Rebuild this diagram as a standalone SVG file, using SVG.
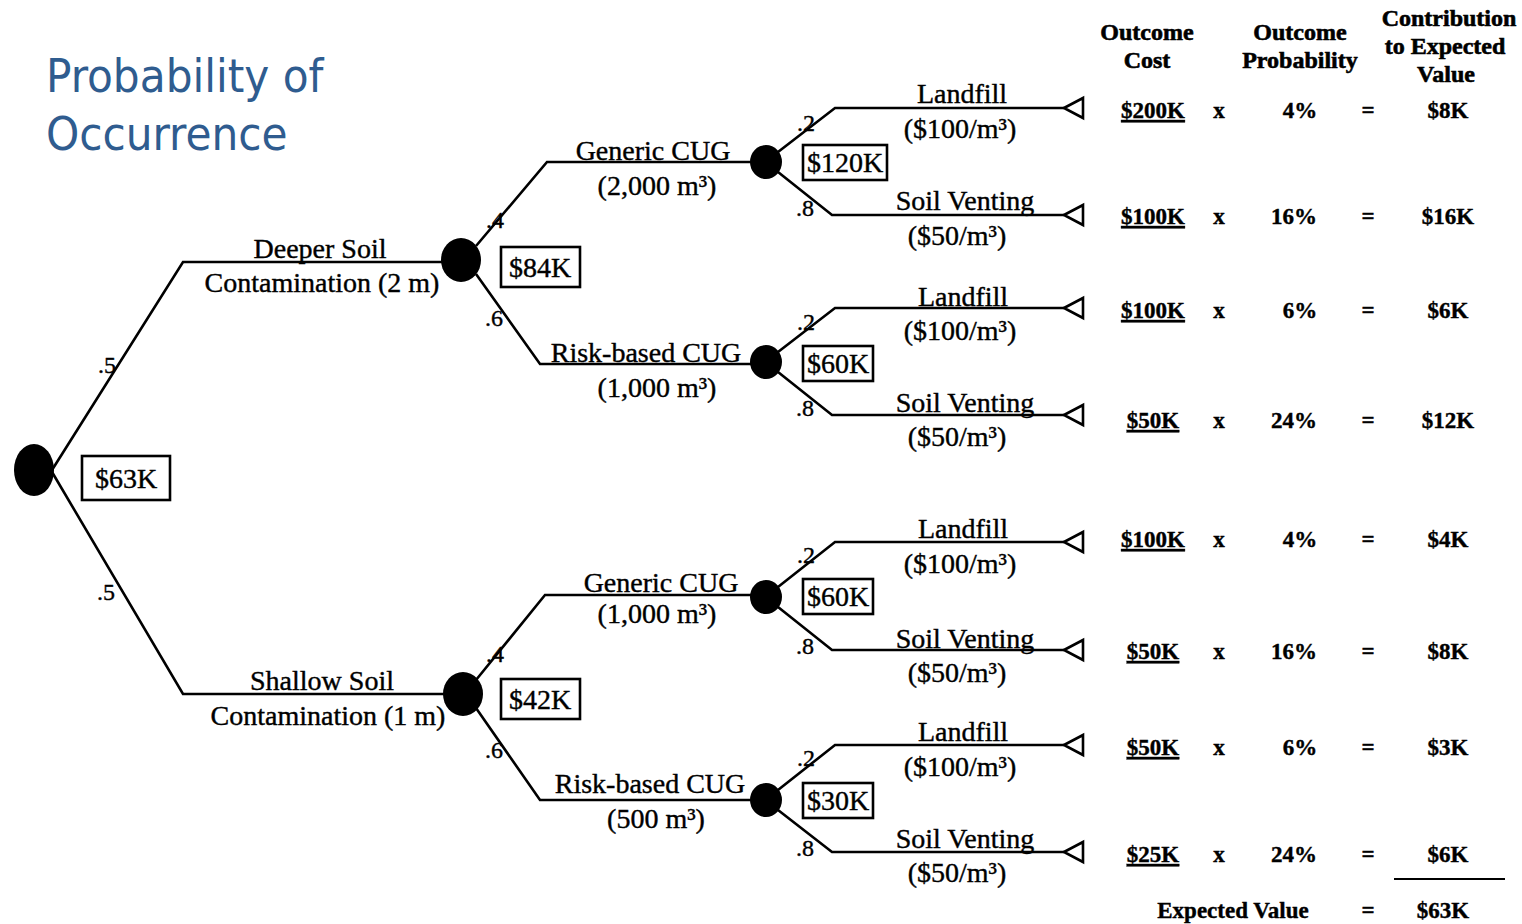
<svg xmlns="http://www.w3.org/2000/svg" width="1522" height="924" viewBox="0 0 1522 924">
<style>
.t{font-family:"Liberation Serif","Times New Roman",serif;font-size:28px;fill:#000;stroke:#000;stroke-width:0.4;text-anchor:middle}
.pr{font-family:"Liberation Serif","Times New Roman",serif;font-size:24px;fill:#000;stroke:#000;stroke-width:0.4;text-anchor:middle}
.h{font-family:"Liberation Serif","Times New Roman",serif;font-size:24px;font-weight:bold;fill:#000;stroke:#000;stroke-width:0.6;text-anchor:middle}
.v{font-family:"Liberation Serif","Times New Roman",serif;font-size:23px;font-weight:bold;fill:#000;stroke:#000;stroke-width:0.4;text-anchor:middle}
.u{text-decoration:underline}
.title{font-family:"DejaVu Sans Condensed","DejaVu Sans",sans-serif;font-stretch:condensed;font-size:47px;fill:#2F5C8F}
.e{fill:none;stroke:#000;stroke-width:2.6;stroke-linejoin:miter}
.leaf{fill:#fff;stroke:#000;stroke-width:2.6}
.box{fill:#fff;stroke:#000;stroke-width:2.6}
.dot{fill:#000}
</style>
<rect width="1522" height="924" fill="#fff"/>
<g id="title">
<text class="title" x="46" y="92">Probability of</text>
<text class="title" x="46" y="150">Occurrence</text>
</g>
<g id="connectors">
<polyline class="e" points="52,470 183,262 443,262"/>
<polyline class="e" points="52,472 183,694 445,694"/>
<polyline class="e" points="476,246 547,162 752,162"/>
<polyline class="e" points="476,274 540,364 752,364"/>
<polyline class="e" points="476,680 545,595 752,595"/>
<polyline class="e" points="476,708 540,800 752,800"/>
<polyline class="e" points="778,152 835,108 1064,108"/>
<polyline class="e" points="778,172 832,215 1064,215"/>
<polyline class="e" points="778,352 835,308 1064,308"/>
<polyline class="e" points="778,372 832,415 1064,415"/>
<polyline class="e" points="778,587 835,542 1064,542"/>
<polyline class="e" points="778,607 832,650 1064,650"/>
<polyline class="e" points="778,790 835,745 1064,745"/>
<polyline class="e" points="778,810 832,852 1064,852"/>
<text class="pr" x="107" y="373">.5</text>
<text class="pr" x="106" y="600">.5</text>
<text class="pr" x="495" y="228">.4</text>
<text class="pr" x="494" y="326">.6</text>
<text class="pr" x="495" y="662">.4</text>
<text class="pr" x="494" y="758">.6</text>
<text class="pr" x="806" y="131">.2</text>
<text class="pr" x="805" y="216">.8</text>
<text class="pr" x="806" y="330">.2</text>
<text class="pr" x="805" y="416">.8</text>
<text class="pr" x="806" y="563">.2</text>
<text class="pr" x="805" y="654">.8</text>
<text class="pr" x="806" y="766">.2</text>
<text class="pr" x="805" y="856">.8</text>
<text class="t" x="320" y="258">Deeper Soil</text>
<text class="t" x="322" y="292">Contamination (2 m)</text>
<text class="t" x="322" y="690">Shallow Soil</text>
<text class="t" x="328" y="725">Contamination (1 m)</text>
<text class="t" x="653" y="160">Generic CUG</text>
<text class="t" x="657" y="195">(2,000 m³)</text>
<text class="t" x="646" y="362">Risk-based CUG</text>
<text class="t" x="657" y="397">(1,000 m³)</text>
<text class="t" x="661" y="592">Generic CUG</text>
<text class="t" x="657" y="623">(1,000 m³)</text>
<text class="t" x="650" y="793">Risk-based CUG</text>
<text class="t" x="656" y="828">(500 m³)</text>
<text class="t" x="962" y="103">Landfill</text>
<text class="t" x="960" y="138">($100/m³)</text>
<text class="t" x="965" y="210">Soil Venting</text>
<text class="t" x="957" y="245">($50/m³)</text>
<text class="t" x="963" y="306">Landfill</text>
<text class="t" x="960" y="340">($100/m³)</text>
<text class="t" x="965" y="412">Soil Venting</text>
<text class="t" x="957" y="446">($50/m³)</text>
<text class="t" x="963" y="538">Landfill</text>
<text class="t" x="960" y="573">($100/m³)</text>
<text class="t" x="965" y="648">Soil Venting</text>
<text class="t" x="957" y="682">($50/m³)</text>
<text class="t" x="963" y="741">Landfill</text>
<text class="t" x="960" y="776">($100/m³)</text>
<text class="t" x="965" y="848">Soil Venting</text>
<text class="t" x="957" y="882">($50/m³)</text>
</g>
<g id="root">
<ellipse class="dot" cx="34" cy="470" rx="20" ry="26"/>
<rect class="box" x="82" y="456" width="88" height="44"/>
<text class="t" x="126" y="488">$63K</text>
</g>
<g id="deeper">
<ellipse class="dot" cx="461" cy="260" rx="20" ry="22"/>
<rect class="box" x="501" y="247" width="79" height="40"/>
<text class="t" x="540" y="277">$84K</text>
</g>
<g id="shallow">
<ellipse class="dot" cx="463" cy="694" rx="20" ry="22"/>
<rect class="box" x="501" y="679" width="79" height="40"/>
<text class="t" x="540" y="709">$42K</text>
</g>
<g id="deeper-generic">
<ellipse class="dot" cx="766" cy="162" rx="16" ry="17"/>
<rect class="box" x="803" y="145" width="84" height="35"/>
<text class="t" x="845" y="172">$120K</text>
</g>
<g id="deeper-risk">
<ellipse class="dot" cx="766" cy="362" rx="16" ry="17"/>
<rect class="box" x="803" y="346" width="70" height="35"/>
<text class="t" x="838" y="373">$60K</text>
</g>
<g id="shallow-generic">
<ellipse class="dot" cx="766" cy="597" rx="16" ry="17"/>
<rect class="box" x="803" y="579" width="70" height="35"/>
<text class="t" x="838" y="606">$60K</text>
</g>
<g id="shallow-risk">
<ellipse class="dot" cx="766" cy="800" rx="16" ry="17"/>
<rect class="box" x="803" y="783" width="70" height="35"/>
<text class="t" x="838" y="810">$30K</text>
</g>
<g id="leaves">
<polygon class="leaf" points="1064,108 1083,98 1083,118"/>
<polygon class="leaf" points="1064,215 1083,205 1083,225"/>
<polygon class="leaf" points="1064,308 1083,298 1083,318"/>
<polygon class="leaf" points="1064,415 1083,405 1083,425"/>
<polygon class="leaf" points="1064,542 1083,532 1083,552"/>
<polygon class="leaf" points="1064,650 1083,640 1083,660"/>
<polygon class="leaf" points="1064,745 1083,735 1083,755"/>
<polygon class="leaf" points="1064,852 1083,842 1083,862"/>
</g>
<g id="table">
<text class="h" x="1147" y="40">Outcome</text>
<text class="h" x="1147" y="68">Cost</text>
<text class="h" x="1300" y="40">Outcome</text>
<text class="h" x="1300" y="68">Probability</text>
<text class="h" x="1449" y="26">Contribution</text>
<text class="h" x="1445" y="54">to Expected</text>
<text class="h" x="1446" y="82">Value</text>
<text class="v u" x="1153" y="118">$200K</text><text class="v" x="1219" y="118">x</text><text class="v" x="1300" y="118">4%</text><text class="v" x="1368" y="118">=</text><text class="v" x="1448" y="118">$8K</text>
<text class="v u" x="1153" y="224">$100K</text><text class="v" x="1219" y="224">x</text><text class="v" x="1294" y="224">16%</text><text class="v" x="1368" y="224">=</text><text class="v" x="1448" y="224">$16K</text>
<text class="v u" x="1153" y="318">$100K</text><text class="v" x="1219" y="318">x</text><text class="v" x="1300" y="318">6%</text><text class="v" x="1368" y="318">=</text><text class="v" x="1448" y="318">$6K</text>
<text class="v u" x="1153" y="428">$50K</text><text class="v" x="1219" y="428">x</text><text class="v" x="1294" y="428">24%</text><text class="v" x="1368" y="428">=</text><text class="v" x="1448" y="428">$12K</text>
<text class="v u" x="1153" y="547">$100K</text><text class="v" x="1219" y="547">x</text><text class="v" x="1300" y="547">4%</text><text class="v" x="1368" y="547">=</text><text class="v" x="1448" y="547">$4K</text>
<text class="v u" x="1153" y="659">$50K</text><text class="v" x="1219" y="659">x</text><text class="v" x="1294" y="659">16%</text><text class="v" x="1368" y="659">=</text><text class="v" x="1448" y="659">$8K</text>
<text class="v u" x="1153" y="755">$50K</text><text class="v" x="1219" y="755">x</text><text class="v" x="1300" y="755">6%</text><text class="v" x="1368" y="755">=</text><text class="v" x="1448" y="755">$3K</text>
<text class="v u" x="1153" y="862">$25K</text><text class="v" x="1219" y="862">x</text><text class="v" x="1294" y="862">24%</text><text class="v" x="1368" y="862">=</text><text class="v" x="1448" y="862">$6K</text>
<line x1="1394" y1="879" x2="1505" y2="879" stroke="#000" stroke-width="2"/>
<text class="v" x="1233" y="918">Expected Value</text>
<text class="v" x="1368" y="918">=</text>
<text class="v" x="1443" y="918">$63K</text>
</g>
</svg>
